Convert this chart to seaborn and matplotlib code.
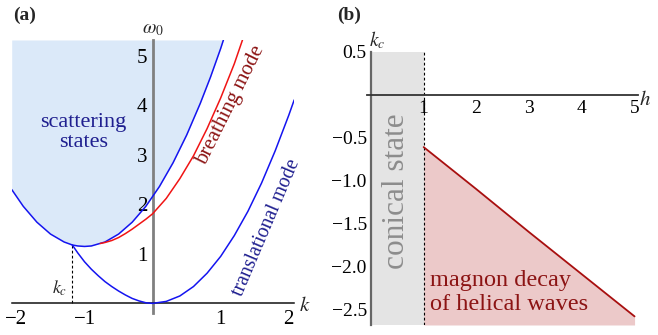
import numpy as np
import pandas as pd
import matplotlib
matplotlib.use("Agg")
import matplotlib.pyplot as plt
from matplotlib.ticker import MultipleLocator, FixedLocator
import seaborn as sns

sns.set_theme(style="white")
plt.rcParams["font.serif"] = ["Liberation Serif", "DejaVu Serif"]
plt.rcParams["font.family"] = "serif"
plt.rcParams["mathtext.fontset"] = "stix"
plt.rcParams["axes.unicode_minus"] = True

SERIF = "Liberation Serif"

# ---- panel (a): dispersion of the modes ----
k_bound = [-2.07, -1.9, -1.7, -1.5, -1.3, -1.18, -1.1, -1.0, -0.9, -0.7, -0.5,
           -0.3, -0.1, 0.1, 0.3, 0.5, 0.7, 0.85, 1.0, 1.04]
w_bound = [2.30, 1.96, 1.64, 1.40, 1.24, 1.18, 1.16, 1.15, 1.16, 1.24, 1.40,
           1.64, 1.96, 2.36, 2.84, 3.40, 4.04, 4.57, 5.15, 5.32]

k_trans = [-1.18, -1.1, -1.0, -0.9, -0.8, -0.7, -0.6, -0.5, -0.4, -0.3, -0.2,
           -0.1, 0.0, 0.2, 0.4, 0.6, 0.8, 1.0, 1.2, 1.4, 1.6, 1.8, 2.0, 2.08]
w_trans = [1.18, 1.02, 0.84, 0.69, 0.56, 0.44, 0.34, 0.25, 0.17, 0.10, 0.05,
           0.013, 0.0, 0.04, 0.15, 0.34, 0.61, 0.95, 1.37, 1.86, 2.43, 3.08,
           3.80, 4.11]

k_breath = [-0.77, -0.7, -0.6, -0.5, -0.4, -0.3, -0.2, -0.1, 0.0, 0.2, 0.4,
            0.6, 0.8, 1.0, 1.2, 1.32]
w_breath = [1.21, 1.23, 1.27, 1.33, 1.41, 1.50, 1.60, 1.70, 1.81, 2.12, 2.52,
            2.98, 3.53, 4.15, 4.84, 5.32]

k_c = -1.18
w_c = 1.18

# ---- panel (b): critical wave number vs field ----
h_vals = [1.0, 2.0, 3.0, 4.0, 5.0]
kc_vals = [-0.61, -1.10, -1.60, -2.09, -2.58]
h_conical = 1.0

A_XLIM = (-2.07, 2.07)
A_YLIM = (-0.2, 5.32)
B_XLIM = (-0.08, 5.07)
B_YLIM = (-2.68, 0.5)

BLUE = "#1414f0"
RED = "#f01414"
DARKRED = "#a80f0f"
NAVY = "#1f1f8f"
TXTRED = "#8c1414"

fig = plt.figure(figsize=(6.58, 3.35), dpi=100)
axa = fig.add_axes([0.0178, 0.0648, 0.4283, 0.8158])
axb = fig.add_axes([0.5573, 0.0299, 0.4127, 0.8158])


def style_axes(ax, xcol, ycol, xlw, ylw):
    for s in ("top", "right"):
        ax.spines[s].set_visible(False)
    ax.spines["left"].set_position(("data", 0))
    ax.spines["bottom"].set_position(("data", 0))
    ax.spines["left"].set_color(ycol)
    ax.spines["left"].set_linewidth(ylw)
    ax.spines["bottom"].set_color(xcol)
    ax.spines["bottom"].set_linewidth(xlw)
    ax.set_facecolor("none")
    ax.tick_params(which="both", direction="in", colors="#222222",
                   labelcolor="black", top=False, right=False)
    ax.tick_params(which="major", length=4.5, width=0.8, pad=3)
    ax.tick_params(which="minor", length=2.5, width=0.6)
    ax.set_xlabel("")
    ax.set_ylabel("")
    ax.grid(False)


def serif_ticks(ax, size):
    for lab in ax.get_xticklabels() + ax.get_yticklabels():
        lab.set_fontfamily(SERIF)
        lab.set_fontsize(size)


# panel (a)
top = A_YLIM[1]
axa.fill_between(k_bound, w_bound, top, color="#dbe9f9", lw=0, zorder=0)
df_b = pd.DataFrame({"k": k_bound, "w": w_bound})
df_t = pd.DataFrame({"k": k_trans, "w": w_trans})
df_r = pd.DataFrame({"k": k_breath, "w": w_breath})
sns.lineplot(data=df_b, x="k", y="w", ax=axa, color=BLUE, lw=1.1, zorder=3)
sns.lineplot(data=df_t, x="k", y="w", ax=axa, color=BLUE, lw=1.1, zorder=3)
sns.lineplot(data=df_r, x="k", y="w", ax=axa, color=RED, lw=1.1, zorder=3)
axa.plot([k_c, k_c], [0, w_c], color="black", lw=0.8, ls=(0, (2.5, 2)), zorder=2)

axa.set_xlim(*A_XLIM)
axa.set_ylim(*A_YLIM)
style_axes(axa, "#111111", "#808080", 1.1, 2.0)
axa.xaxis.set_major_locator(FixedLocator([-2, -1, 1, 2]))
axa.xaxis.set_minor_locator(MultipleLocator(0.2))
axa.yaxis.set_major_locator(FixedLocator([1, 2, 3, 4, 5]))
axa.yaxis.set_minor_locator(MultipleLocator(0.2))
axa.set_xticklabels(["\u22122", "\u22121", "1", "2"])
axa.set_yticklabels(["1", "2", "3", "4", "5"])
axa.tick_params(axis="x", pad=5)
axa.tick_params(axis="y", pad=4)
serif_ticks(axa, 15)

axa.text(0, 5.53, r"$\omega_0$", ha="center", va="center", fontsize=14)
axa.text(2.24, -0.06, r"$k$", ha="center", va="center", fontsize=15)
axa.text(-1.36, 0.3, r"$k_c$", ha="center", va="center", fontsize=13)
axa.text(-1.02, 3.45, "scattering\nstates", ha="center", va="center",
         fontsize=16, color=NAVY, linespacing=1.1, fontfamily=SERIF)
axa.text(1.14, 4.0, "breathing mode", ha="center", va="center",
         fontsize=15, color=TXTRED, rotation=63.5, rotation_mode="anchor",
         fontfamily=SERIF)
axa.text(1.67, 1.52, "translational mode", ha="center", va="center",
         fontsize=14.2, color=NAVY, rotation=67, rotation_mode="anchor",
         fontfamily=SERIF)

# panel (b)
axb.fill_between([0, h_conical], B_YLIM[0], B_YLIM[1], color="#e4e4e4",
                 lw=0, zorder=0)
axb.fill_between(h_vals, kc_vals, B_YLIM[0], color="#ecc9c9", lw=0, zorder=0)
df_h = pd.DataFrame({"h": h_vals, "kc": kc_vals})
sns.lineplot(data=df_h, x="h", y="kc", ax=axb, color=DARKRED, lw=1.3, zorder=3)
axb.plot([h_conical, h_conical], [B_YLIM[0], B_YLIM[1]], color="black",
         lw=0.8, ls=(0, (2.5, 2)), zorder=2)

axb.set_xlim(*B_XLIM)
axb.set_ylim(*B_YLIM)
style_axes(axb, "#333333", "#666666", 1.3, 1.6)
axb.xaxis.set_major_locator(FixedLocator([1, 2, 3, 4, 5]))
axb.xaxis.set_minor_locator(MultipleLocator(0.2))
axb.yaxis.set_major_locator(FixedLocator([0.5, -0.5, -1.0, -1.5, -2.0, -2.5]))
axb.yaxis.set_minor_locator(MultipleLocator(0.1))
axb.set_xticklabels(["1", "2", "3", "4", "5"])
axb.set_yticklabels(["0.5", "\u22120.5", "\u22121.0", "\u22121.5",
                     "\u22122.0", "\u22122.5"])
axb.tick_params(axis="x", pad=4)
axb.tick_params(axis="y", pad=3)
serif_ticks(axb, 14)

axb.text(0.12, 0.64, r"$k_c$", ha="center", va="center", fontsize=14)
axb.text(5.2, -0.07, r"$h$", ha="center", va="center", fontsize=15)
axb.text(0.48, -1.12, "conical state", ha="center", va="center",
         fontsize=22.5, color="#8c8c8c", rotation=90, fontfamily=SERIF)
axb.text(1.12, -2.30, "magnon decay\nof helical waves", ha="left",
         va="center", fontsize=17.5, color=TXTRED, linespacing=1.22,
         fontfamily=SERIF)

fig.text(0.02, 0.955, "(a)", fontsize=14, fontweight="bold", ha="left",
         va="center", fontfamily=SERIF)
fig.text(0.512, 0.955, "(b)", fontsize=14, fontweight="bold", ha="left",
         va="center", fontfamily=SERIF)

fig.savefig("out.png", dpi=100)
